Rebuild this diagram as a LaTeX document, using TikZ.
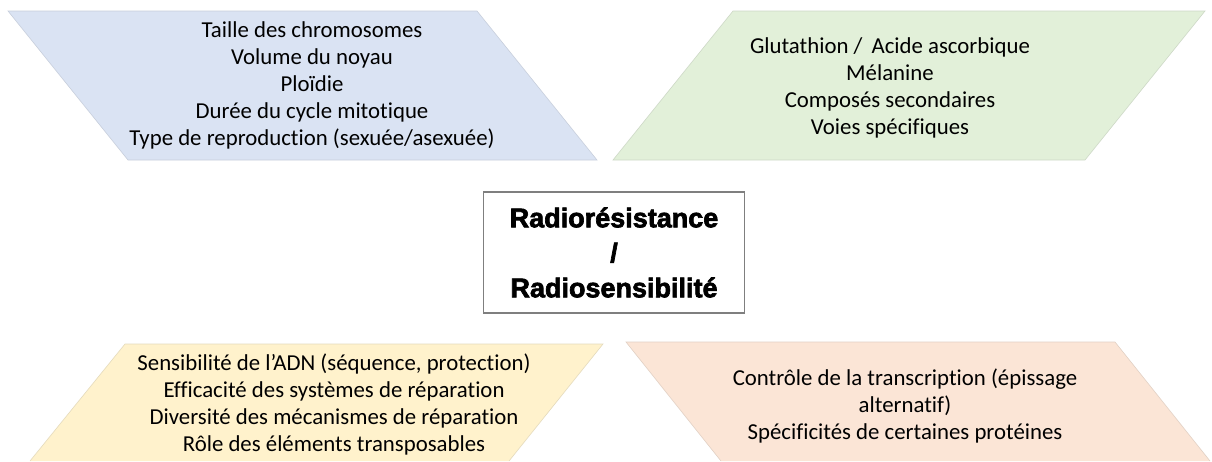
\documentclass[tikz,border=0pt]{standalone}
\usepackage{fontspec}
\setmainfont[Ligatures=NoCommon]{Carlito}
\newfontfamily\titlefont[BoldFeatures={FakeBold=2.5}]{Liberation Sans}
\definecolor{cblue}{HTML}{DAE3F3}
\definecolor{cgreen}{HTML}{E2F0D9}
\definecolor{cyellow}{HTML}{FFF2CC}
\definecolor{corange}{HTML}{FBE5D6}
\definecolor{boxgray}{HTML}{7F7F7F}
\begin{document}
\begin{tikzpicture}[x=1pt,y=-1pt,
  body/.style={align=center,inner sep=0pt,text=black,font=\fontsize{22.8}{27}\selectfont},
  parafill/.style={fill=#1},
  paraedge/.style={draw=#1!80!gray,line width=0.6pt},
  titlebox/.style={draw=boxgray,line width=1.1pt,fill=white,minimum width=261pt,minimum height=121pt,
    align=center,inner sep=0pt,font=\titlefont\bfseries\fontsize{27}{35}\selectfont}]
\useasboundingbox (0,0) rectangle (1212,461);
\fill[white] (0,0) rectangle (1212,461);
% top-left (blue)
\path[parafill=cblue,paraedge=cblue] (8,11) -- (477,11) -- (597,160) -- (128,160) -- cycle;
% top-right (green)
\path[parafill=cgreen,paraedge=cgreen] (733,11) -- (1205,11) -- (1085,160) -- (613,160) -- cycle;
% bottom-left (yellow)
\fill[cyellow] (125,344) -- (603,344) -- (509,461) -- (30,461) -- cycle;
\draw[paraedge=cyellow] (30,461) -- (125,344) -- (603,344) -- (509,461);
% bottom-right (orange)
\fill[corange] (626,342) -- (1115,342) -- (1210,461) -- (721,461) -- cycle;
\draw[paraedge=corange] (721,461) -- (626,342) -- (1115,342) -- (1210,461);

\node[body] (tl) at (312,85.5) {Taille des chromosomes\\Volume du noyau\\Ploïdie\\Durée du cycle mitotique\\Type de reproduction (sexuée/asexuée)};
\node[body] (tr) at (890,88) {Glutathion /\hspace{0.4em}Acide ascorbique\\Mélanine\\Composés secondaires\\Voies spécifiques};
\node[body] (bl) at (334,404.5) {Sensibilité de l’ADN (séquence, protection)\\Efficacité des systèmes de réparation\\Diversité des mécanismes de réparation\\Rôle des éléments transposables};
\node[body] (br) at (905,405.5) {Contrôle de la transcription (épissage\\alternatif)\\Spécificités de certaines protéines};

\node[titlebox] (center) at (614,252.5) {Radiorésistance\\/\\Radiosensibilité};
\end{tikzpicture}
\end{document}
